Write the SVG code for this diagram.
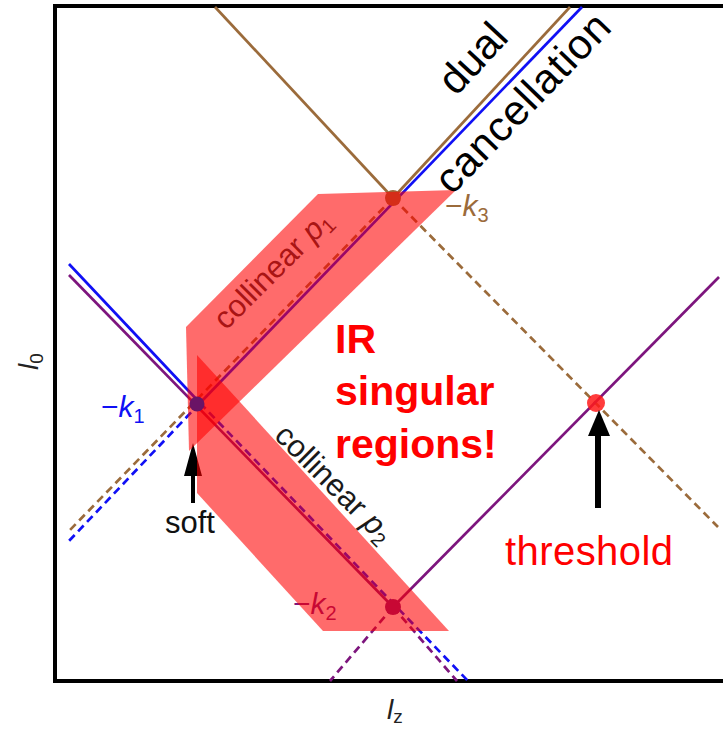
<svg xmlns="http://www.w3.org/2000/svg" width="723" height="731" viewBox="0 0 723 731">
<style>
.ln{fill:none;stroke-width:2.7}
.br{stroke:#9b6b3b}
.bl{stroke:#1010f5}
.pu{stroke:#7d157d}
.da{stroke-dasharray:8 5}
.band{fill:#ff0000;fill-opacity:0.58}
.sans{font-family:"Liberation Sans",Arial,sans-serif}
.it{font-style:italic}
.red{fill:#ff0000}
</style>
<rect width="723" height="731" fill="#ffffff"/>
<path id="frame" d="M723 6H55V681H723" fill="none" stroke="#000" stroke-width="4"/>
<g id="connectors">
  <line class="ln br" x1="215" y1="7" x2="393" y2="198"/>
  <line class="ln br" x1="393" y1="198" x2="570" y2="7"/>
  <line class="ln br da" x1="393" y1="198" x2="68" y2="532"/>
  <line class="ln br da" x1="393" y1="198" x2="718" y2="527"/>
  <line class="ln bl" x1="69" y1="264" x2="200" y2="403"/>
  <line class="ln bl" x1="200" y1="403" x2="582" y2="7"/>
  <line class="ln bl da" x1="200" y1="403" x2="68" y2="542"/>
  <line class="ln bl da" x1="200" y1="403" x2="468" y2="681"/>
  <line class="ln pu" x1="69" y1="275" x2="393" y2="607"/>
  <line class="ln pu" x1="393" y1="607" x2="719" y2="277"/>
  <line class="ln pu da" x1="393" y1="607" x2="330" y2="681"/>
  <line class="ln pu da" x1="393" y1="607" x2="457" y2="681"/>
</g>
<g id="node-k3">
  <circle cx="393" cy="198" r="8" fill="#9b6b3b"/>
  <text class="sans" x="445" y="216" font-size="30" fill="#9b6b3b">−<tspan class="it">k</tspan><tspan font-size="20" dy="6">3</tspan></text>
</g>
<g id="node-k2">
  <circle cx="393" cy="607" r="8" fill="#7d157d"/>
  <text class="sans" x="293" y="614" font-size="30" fill="#7d157d">−<tspan class="it">k</tspan><tspan font-size="20" dy="6">2</tspan></text>
</g>
<g id="label-collinear-p1">
  <text class="sans" font-size="31" fill="#333" transform="translate(226,331) rotate(-45)">collinear <tspan class="it">p</tspan><tspan font-size="20" dy="5">1</tspan></text>
</g>
<g id="label-collinear-p2">
  <text class="sans" font-size="31" fill="#1a1a1a" transform="translate(273,437) rotate(45)">collinear <tspan class="it">p</tspan><tspan font-size="20" dy="5">2</tspan></text>
</g>
<g id="soft-arrow">
  <rect x="191" y="474" width="4" height="29" fill="#000"/>
  <polygon points="193,443 184,476 202,476" fill="#000"/>
</g>
<g id="collinear-regions">
  <polygon class="band" points="186,327 318,194 456,190 189,451"/>
  <polygon class="band" points="197,355 449,631 323,631 197,493"/>
</g>
<g id="node-k1">
  <circle cx="197" cy="404" r="7.5" fill="#6a1466"/>
  <text class="sans" x="101" y="417" font-size="30" fill="#1010f5">−<tspan class="it">k</tspan><tspan font-size="20" dy="6">1</tspan></text>
</g>
<g id="node-threshold">
  <circle cx="596" cy="403" r="9" fill="#ff1a1a" fill-opacity="0.85"/>
  <rect x="595" y="433" width="6" height="75" fill="#000"/>
  <polygon points="599,410 588,436 610,436" fill="#000"/>
  <text class="sans red" x="505" y="565" font-size="40" textLength="168">threshold</text>
</g>
<g id="label-soft">
  <text class="sans" x="165" y="533" font-size="31" fill="#111">soft</text>
</g>
<g id="label-ir">
  <text class="sans red" font-size="41" font-weight="bold"><tspan x="335" y="353">IR</tspan><tspan x="335" y="405">singular</tspan><tspan x="335" y="458">regions!</tspan></text>
</g>
<g id="label-dual">
  <text class="sans" font-size="42" fill="#000" transform="translate(456,97) rotate(-47)">dual</text>
  <text class="sans" font-size="42" fill="#000" transform="translate(452,196) rotate(-46)" textLength="232">cancellation</text>
</g>
<g id="axes-labels">
  <text class="sans" font-size="28" fill="#222" transform="translate(38,370) rotate(-90)"><tspan class="it">l</tspan><tspan font-size="19" dy="5">0</tspan></text>
  <text class="sans" font-size="28" fill="#222" x="387" y="719"><tspan class="it">l</tspan><tspan font-size="19" dy="4">z</tspan></text>
</g>
</svg>
